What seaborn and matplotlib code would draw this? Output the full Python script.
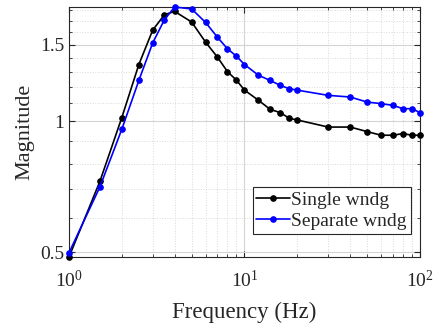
import numpy as np
import pandas as pd
import matplotlib
matplotlib.use('Agg')
import matplotlib.pyplot as plt
import matplotlib.ticker as mticker
import seaborn as sns

# ── data ──────────────────────────────────────────────────
freq = [1, 1.5, 2, 2.5, 3, 3.5, 4, 5, 6, 7, 8, 9, 10, 12, 14, 16, 18, 20,
        30, 40, 50, 60, 70, 80, 90, 100]
single_wndg = [0.488, 0.728, 1.02, 1.35, 1.62, 1.757, 1.788, 1.69, 1.52, 1.405,
               1.30, 1.243, 1.179, 1.118, 1.065, 1.047, 1.016, 1.007,
               0.970, 0.970, 0.947, 0.929, 0.929, 0.937, 0.929, 0.929]
separate_wndg = [0.499, 0.707, 0.959, 1.241, 1.514, 1.712, 1.830, 1.811, 1.687,
                 1.561, 1.467, 1.411, 1.350, 1.276, 1.241, 1.209, 1.188, 1.179,
                 1.147, 1.137, 1.107, 1.098, 1.088, 1.069, 1.069, 1.047]
series_names = ['Single wndg', 'Separate wndg']
series_colors = ['black', '#0000ff']

df = pd.DataFrame({
    'freq': freq * 2,
    'mag': single_wndg + separate_wndg,
    'series': [series_names[0]] * len(freq) + [series_names[1]] * len(freq),
})

sns.set_theme(style='ticks')
plt.rcParams['font.family'] = ['Liberation Serif', 'DejaVu Serif']
plt.rcParams['mathtext.fontset'] = 'custom'
plt.rcParams['mathtext.rm'] = 'Liberation Serif'
plt.rcParams['mathtext.it'] = 'Liberation Serif:italic'

fig = plt.figure(figsize=(4.35, 3.29), dpi=100)
ax = fig.add_axes([69 / 435, 1 - 257 / 329, 351 / 435, 250 / 329])

for name, col in zip(series_names, series_colors):
    sns.lineplot(data=df[df['series'] == name], x='freq', y='mag', ax=ax,
                 color=col, marker='o', markersize=4, markeredgecolor=col,
                 linewidth=1.2, label=name, zorder=3, clip_on=False)

ax.set_xscale('log')
ax.set_yscale('log')
ax.set_xlim(1, 100)
ax.set_ylim(min(single_wndg), max(separate_wndg))

ax.yaxis.set_major_locator(mticker.FixedLocator([0.5, 1, 1.5]))
ax.yaxis.set_major_formatter(mticker.FixedFormatter(['0.5', '1', '1.5']))
ax.yaxis.set_minor_locator(mticker.FixedLocator(
    [0.6, 0.7, 0.8, 0.9, 1.1, 1.2, 1.3, 1.4, 1.6, 1.7, 1.8]))
ax.yaxis.set_minor_formatter(mticker.NullFormatter())
ax.xaxis.set_major_locator(mticker.LogLocator(base=10))
ax.xaxis.set_major_formatter(mticker.LogFormatterSciNotation())
ax.xaxis.set_minor_locator(mticker.LogLocator(base=10, subs=np.arange(2, 10)))
ax.xaxis.set_minor_formatter(mticker.NullFormatter())

ax.grid(which='major', color='#d4d4d4', linewidth=0.8, linestyle='-')
ax.grid(which='minor', color='#d9d9d9', linewidth=0.7, linestyle=':')
ax.set_axisbelow(True)

ax.tick_params(which='both', direction='in', top=True, right=True,
               colors='#262626', labelcolor='#262626', labelsize=14)
ax.tick_params(which='major', length=4, width=0.8)
ax.tick_params(which='minor', length=2, width=0.6)
ax.tick_params(axis='x', which='major', pad=9)
for sp in ax.spines.values():
    sp.set_color('#262626')
    sp.set_linewidth(0.8)

ax.set_xlabel('Frequency (Hz)', fontsize=16.5, color='#262626', labelpad=8)
ax.set_ylabel('Magnitude', fontsize=16, color='#262626', labelpad=4)

leg = ax.legend(loc='lower right', bbox_to_anchor=(0.974, 0.092),
                borderaxespad=0, fontsize=14, frameon=True, fancybox=False,
                framealpha=1, edgecolor='#262626', handlelength=1.7,
                handletextpad=0.1, labelspacing=0.2, borderpad=0.2)
leg.get_frame().set_linewidth(0.8)

fig.savefig('out.png', dpi=100)
